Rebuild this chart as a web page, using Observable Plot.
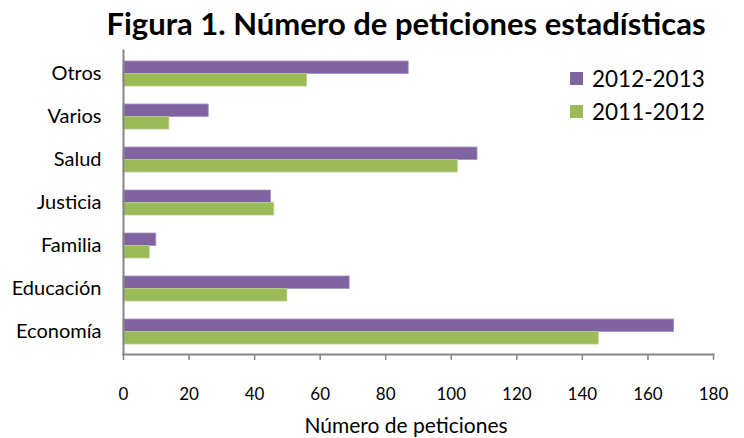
<!DOCTYPE html>
<html>
<head>
<meta charset="utf-8">
<script src="https://cdn.jsdelivr.net/npm/d3@7"></script>
<script src="https://cdn.jsdelivr.net/npm/@observablehq/plot@0.6"></script>
<style>
  html, body { margin: 0; padding: 0; background: #fff; }
  #wrap { position: relative; width: 744px; height: 438px; font-family: Lato, "Open Sans", sans-serif; color: #000; }
  #title { position: absolute; left: 0; top: 1px; width: 744px; box-sizing: border-box; padding-left: 68px; text-align: center; font-weight: bold; font-size: 31px; line-height: 45px; height: 45px; white-space: nowrap; }
  #chart { position: absolute; left: 0; top: 45px; }
  #legend { position: absolute; left: 570px; top: 62px; font-size: 22.5px; }
  #xlabel { position: absolute; left: 0; top: 413px; width: 744px; box-sizing: border-box; padding-left: 68px; text-align: center; font-size: 21px; line-height: 23px; }
  .item { display: flex; align-items: center; height: 33px; }
  .sw { width: 13px; height: 13px; margin-right: 9px; }
</style>
</head>
<body>
<div id="wrap">
  <div id="title">Figura 1. Número de peticiones estadísticas</div>
  <div id="chart"></div>
  <div id="legend"></div>
  <div id="xlabel"></div>
</div>
<script>
const categories = ["Otros", "Varios", "Salud", "Justicia", "Familia", "Educación", "Economía"];
const seriesNames = ["2012-2013", "2011-2012"];
const values2012_2013 = [87, 26, 108, 45, 10, 69, 168];
const values2011_2012 = [56, 14, 102, 46, 8, 50, 145];
const xTicks = [0, 20, 40, 60, 80, 100, 120, 140, 160, 180];
const xLabel = "Número de peticiones";
const colors = ["#8064A2", "#9BBB59"];

const data = [];
categories.forEach((c, i) => {
  data.push({category: c, series: seriesNames[0], value: values2012_2013[i]});
  data.push({category: c, series: seriesNames[1], value: values2011_2012[i]});
});

const H = 393, mT = 5, mB = 84;
const yBand = d3.scaleBand().domain(categories).range([mT, H - mB]).paddingInner(0.425).paddingOuter(0.2125);
const half = yBand.bandwidth() / 2;

const chart = Plot.plot({
  width: 744,
  height: H,
  marginLeft: 123,
  marginRight: 31,
  marginTop: mT,
  marginBottom: mB,
  style: {fontFamily: "Lato, 'Open Sans', sans-serif", fontSize: "16px", color: "#000", background: "#fff"},
  x: {domain: [0, 180]},
  y: {domain: categories, paddingInner: 0.425, paddingOuter: 0.2125},
  marks: [
    Plot.barX(data.filter(d => d.series === seriesNames[0]), {x: "value", y: "category", fill: colors[0], insetBottom: half, stroke: "#A693BD", strokeWidth: 0.8}),
    Plot.barX(data.filter(d => d.series === seriesNames[1]), {x: "value", y: "category", fill: colors[1], insetTop: half, stroke: "#B9D08E", strokeWidth: 0.8}),
    Plot.frame({anchor: "left", stroke: "#868686", strokeWidth: 2}),
    Plot.frame({anchor: "bottom", stroke: "#868686", strokeWidth: 2}),
    Plot.axisX({ticks: xTicks, tickSize: 6, tickPadding: 27, stroke: "#868686", strokeWidth: 1.5, fontSize: 17, label: null}),
    Plot.axisY({tickSize: 0, tickPadding: 22, fontSize: 20, label: null})
  ]
});
document.getElementById("chart").appendChild(chart);
document.getElementById("xlabel").textContent = xLabel;

const legend = document.getElementById("legend");
seriesNames.forEach((s, i) => {
  const it = document.createElement("div");
  it.className = "item";
  const sw = document.createElement("span");
  sw.className = "sw";
  sw.style.background = colors[i];
  const t = document.createElement("span");
  t.textContent = s;
  it.appendChild(sw); it.appendChild(t);
  legend.appendChild(it);
});
</script>
</body>
</html>
